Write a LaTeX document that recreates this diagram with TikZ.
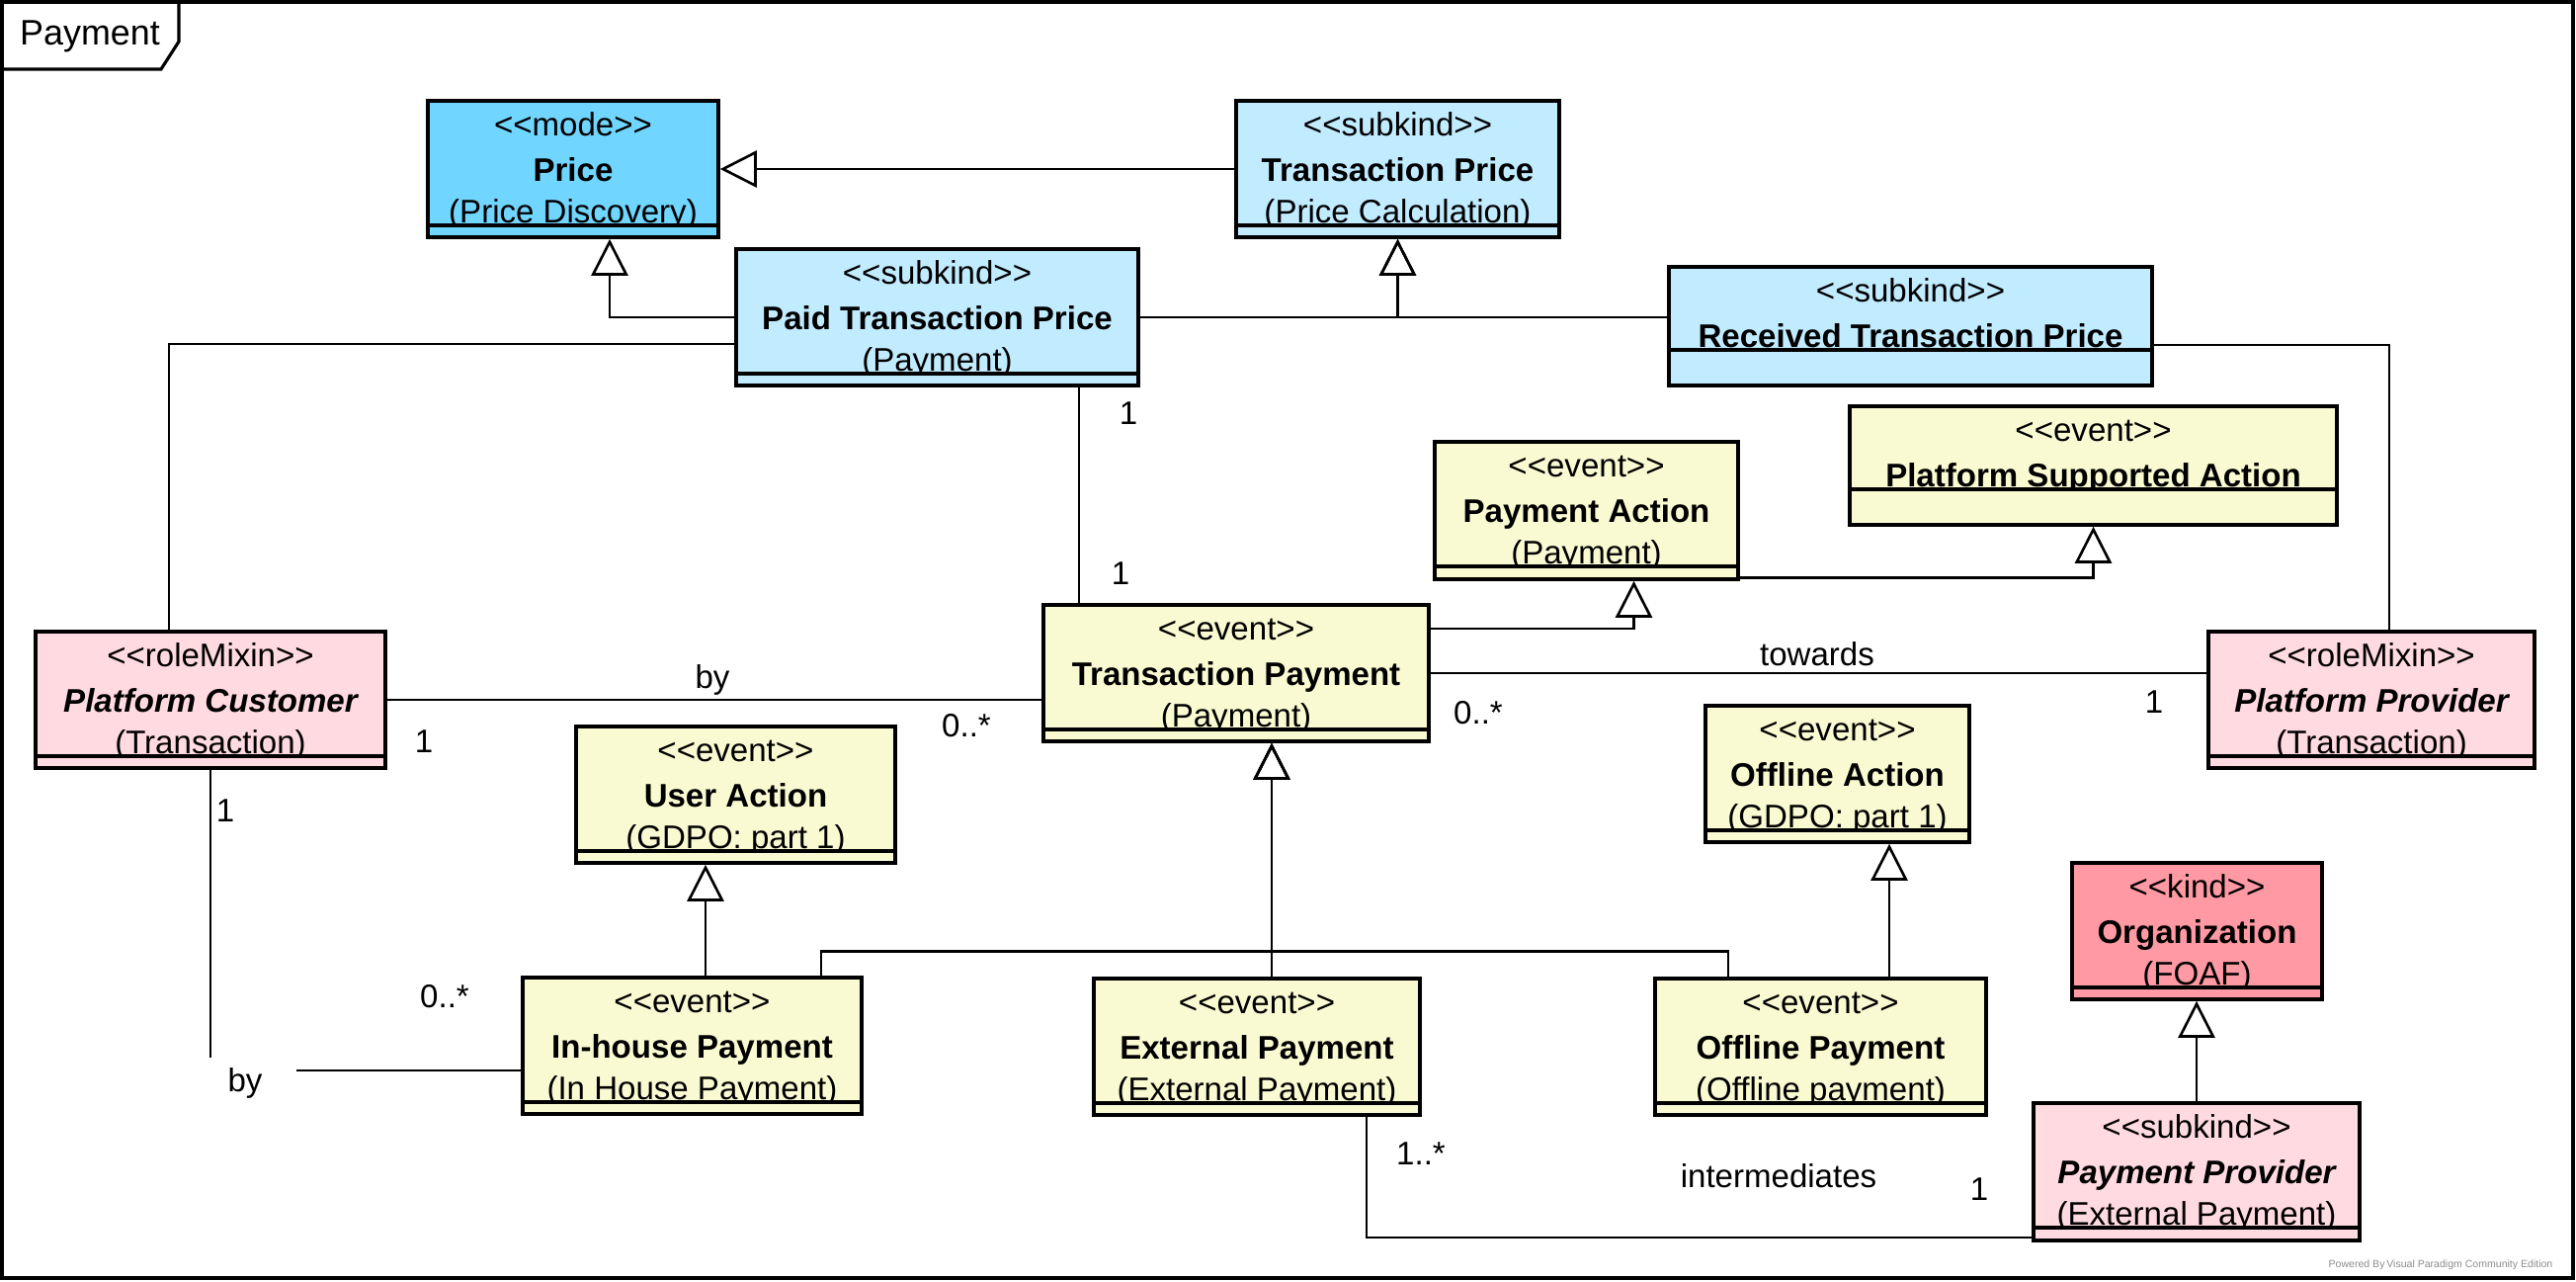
\documentclass[tikz,border=0pt]{standalone}
\usepackage{fontspec}
\setmainfont{Liberation Sans}
\usetikzlibrary{arrows.meta,fit,calc}
\definecolor{modeblue}{RGB}{112,214,255}
\definecolor{subblue}{RGB}{193,235,255}
\definecolor{evyellow}{RGB}{250,250,210}
\definecolor{rolepink}{RGB}{255,218,224}
\definecolor{kindpink}{RGB}{255,153,163}
\newcommand{\stq}[1]{\textless\kern0pt\textless\kern0pt#1\kern0pt\textgreater\kern0pt\textgreater}
\tikzset{
  umlbox/.style={draw=black, line width=1pt, inner sep=0pt},
  btxt/.style={anchor=base, inner sep=0pt},
  gen/.style={draw, line width=0.75pt, -{Triangle[open,length=0.37cm,width=0.37cm]}},
  assoc/.style={draw, line width=0.75pt},
  lbl/.style={inner sep=0pt},
}
\newcommand{\boxthree}[9]{%
  \node[umlbox, fill=#6, fit={(#2,#3) (#4,#5)}] (#1) {};
  \node[btxt] (#1-s) at ({(#2+#4)/2},{#3+35}) {\stq{#7}};
  \node[btxt] (#1-t) at ({(#2+#4)/2},{#3+81}) {#8};
  \node[btxt] (#1-u) at ({(#2+#4)/2},{#3+123}) {#9};
  \draw[umlbox, fill=#6] (#2,{#3+126}) rectangle (#4,#5);
}
\newcommand{\boxtwo}[8]{%
  \node[umlbox, fill=#6, fit={(#2,#3) (#4,#5)}] (#1) {};
  \node[btxt] (#1-s) at ({(#2+#4)/2},{#3+35}) {\stq{#7}};
  \node[btxt] (#1-t) at ({(#2+#4)/2},{#3+81}) {#8};
  \draw[umlbox, fill=#6] (#2,{#3+84}) rectangle (#4,#5);
}
\begin{document}
\begin{tikzpicture}[x=0.01cm,y=-0.01cm,font=\fontsize{9.4}{11}\selectfont]
\useasboundingbox (0,0) rectangle (2607,1296);
% frame
\draw[line width=0.9pt] (2,2) rectangle (2604,1293);
\draw[line width=0.9pt] (2,70) -- (163,70) -- (181,42) -- (181,2);
\node[inner sep=0pt,font=\fontsize{10.2}{12}\selectfont] (framelabel) at (91,37) {Payment};
\node[inner sep=0pt,font=\fontsize{3}{4}\selectfont,text=black!45] (wm) at (2470,1280) {Powered By\,Visual Paradigm Community Edition};

% boxes
\boxthree{price}{433}{102}{727}{240}{modeblue}{mode}{\bfseries Price}{(Price Discovery)}
\boxthree{tprice}{1251}{102}{1578}{240}{subblue}{subkind}{\bfseries Transaction Price}{(Price Calculation)}
\boxthree{ptp}{745}{252}{1152}{390}{subblue}{subkind}{\bfseries Paid Transaction Price}{(Payment)}
\boxtwo{rtp}{1689}{270}{2178}{390}{subblue}{subkind}{\bfseries Received Transaction Price}
\boxtwo{psa}{1872}{411}{2365}{531}{evyellow}{event}{\bfseries Platform Supported Action}
\boxthree{pa}{1452}{447}{1759}{586}{evyellow}{event}{\bfseries Payment Action}{(Payment)}
\boxthree{txp}{1056}{612}{1446}{750}{evyellow}{event}{\bfseries Transaction Payment}{(Payment)}
\boxthree{pc}{36}{639}{390}{777}{rolepink}{roleMixin}{\bfseries\itshape Platform Customer}{(Transaction)}
\boxthree{pp}{2235}{639}{2565}{777}{rolepink}{roleMixin}{\bfseries\itshape Platform Provider}{(Transaction)}
\boxthree{ua}{583}{735}{906}{873}{evyellow}{event}{\bfseries User Action}{(GDPO: part 1)}
\boxthree{oa}{1726}{714}{1993}{852}{evyellow}{event}{\bfseries Offline Action}{(GDPO: part 1)}
\boxthree{org}{2097}{873}{2350}{1011}{kindpink}{kind}{\bfseries Organization}{(FOAF)}
\boxthree{inh}{529}{989}{872}{1127}{evyellow}{event}{\bfseries In-house Payment}{(In House Payment)}
\boxthree{ext}{1107}{990}{1437}{1128}{evyellow}{event}{\bfseries External Payment}{(External Payment)}
\boxthree{offp}{1675}{990}{2010}{1128}{evyellow}{event}{\bfseries Offline Payment}{(Offline payment)}
\boxthree{ppr}{2058}{1116}{2388}{1255}{rolepink}{subkind}{\bfseries\itshape Payment Provider}{(External Payment)}

% generalizations
\draw[gen] (tprice.west) -- (price.east);
\draw[gen] (ptp.west) -| ($(price.south)+(37,0)$);
\draw[gen] (ptp.east) -| (tprice.south);
\draw[gen] (rtp.west |- ptp.east) -| (tprice.south);
\draw[gen] ($(txp.east)+(0,-45)$) -| ($(pa.south)+(48,0)$);
\draw[gen] ($(pa.south east)+(0,-3)$) -| (psa.south);
\coordinate (gjoin) at ($(txp.south)+(36,211)$);
\draw[gen] ($(ext.north)+(15,0)$) -- ($(txp.south)+(36,0)$);
\draw[gen] ($(inh.north)+(130.5,0)$) |- (gjoin) -- ($(txp.south)+(36,0)$);
\draw[gen] ($(offp.north)+(-93.5,0)$) |- (gjoin) -- ($(txp.south)+(36,0)$);
\draw[gen] ($(inh.north)+(13.5,0)$) -- ($(ua.south)+(-30.5,0)$);
\draw[gen] ($(offp.north)+(69.5,0)$) -- ($(oa.south)+(52.5,0)$);
\draw[gen] (ppr.north) -- (ppr.north |- org.south);

% associations
\draw[assoc] ($(ptp.west)+(0,27)$) -| ($(pc.north)+(-42,0)$);
\draw[assoc] ($(rtp.east)+(0,19)$) -| ($(pp.north)+(18,0)$);
\draw[assoc] ($(ptp.south)+(143.5,0)$) -- ($(txp.north)+(-159,0)$);
\draw[assoc] (pc.east) -- (txp.west |- pc.east);
\draw[assoc] (txp.east) -- (txp.east -| pp.west);
\coordinate (byA) at (213,1070);
\coordinate (byB) at (300,1083);
\draw[assoc] (pc.south) -- (byA);
\draw[assoc] (byB) -- (inh.west |- byB);
\draw[assoc] ($(ext.south)+(111,0)$) |- ($(ppr.west)+(0,66.5)$);

% labels
\node[lbl] (m1) at (1142,418) {1};
\node[lbl] (m2) at (1134,580) {1};
\node[lbl] (by1) at (721,688) {by};
\node[lbl] (m3) at (429,750) {1};
\node[lbl] (m4) at (978,734) {0..*};
\node[lbl] (tow) at (1839,662) {towards};
\node[lbl] (m5) at (1496,721) {0..*};
\node[lbl] (m6) at (2180,710) {1};
\node[lbl] (m7) at (228,820) {1};
\node[lbl] (m8) at (450,1008) {0..*};
\node[lbl] (by2) at (248,1096) {by};
\node[lbl] (m9) at (1438,1167) {1..*};
\node[lbl] (inter) at (1800,1190) {intermediates};
\node[lbl] (m10) at (2003,1203) {1};
\end{tikzpicture}
\end{document}
